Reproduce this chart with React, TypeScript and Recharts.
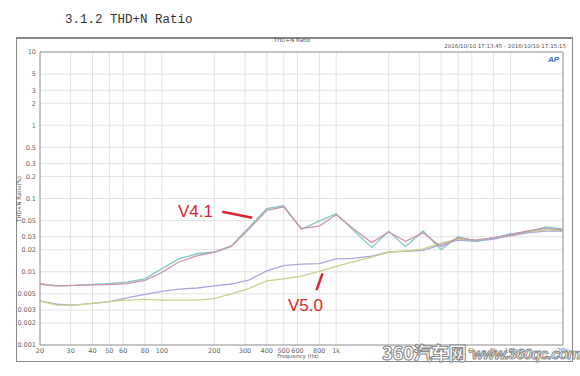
import React from 'react';
import { LineChart, Line, XAxis, YAxis, CartesianGrid, ReferenceLine } from 'recharts';

const freqs = [20, 25, 31.5, 40, 50, 63, 80, 100, 125, 160, 200, 250, 315, 400, 500, 630, 800, 1000, 1250, 1600, 2000, 2500, 3150, 4000, 5000, 6300, 8000, 10000, 12500, 16000, 20000];
const v41a = [0.0068, 0.0064, 0.0065, 0.0067, 0.0069, 0.0072, 0.008, 0.011, 0.015, 0.0176, 0.0186, 0.0225, 0.04, 0.073, 0.08, 0.038, 0.049, 0.062, 0.037, 0.0215, 0.0356, 0.022, 0.036, 0.02, 0.03, 0.026, 0.029, 0.033, 0.035, 0.041, 0.038];
const v41b = [0.0068, 0.0064, 0.0065, 0.0066, 0.0067, 0.0069, 0.0076, 0.0098, 0.0136, 0.0166, 0.0184, 0.0222, 0.038, 0.069, 0.077, 0.039, 0.042, 0.06, 0.039, 0.025, 0.035, 0.026, 0.034, 0.022, 0.029, 0.027, 0.029, 0.032, 0.036, 0.039, 0.037];
const v50a = [0.004, 0.0036, 0.0035, 0.0037, 0.0039, 0.0044, 0.0049, 0.0054, 0.0058, 0.006, 0.0064, 0.0068, 0.0077, 0.0103, 0.0121, 0.0127, 0.0129, 0.015, 0.0152, 0.0163, 0.0186, 0.019, 0.0196, 0.0235, 0.027, 0.026, 0.028, 0.031, 0.034, 0.036, 0.036];
const v50b = [0.004, 0.0035, 0.0035, 0.0037, 0.0039, 0.0041, 0.0042, 0.0041, 0.0041, 0.0041, 0.0043, 0.005, 0.0059, 0.0075, 0.008, 0.0087, 0.0101, 0.0118, 0.0136, 0.0158, 0.0185, 0.0192, 0.0205, 0.0245, 0.028, 0.027, 0.029, 0.032, 0.035, 0.037, 0.037];

const xTicks = [20, 30, 40, 50, 60, 80, 100, 200, 300, 400, 500, 600, 800, 1000, 2000, 3000, 4000, 5000, 6000, 8000, 10000, 20000];
const yTicks = [0.001, 0.002, 0.003, 0.005, 0.01, 0.02, 0.03, 0.05, 0.1, 0.2, 0.3, 0.5, 1, 2, 3, 5, 10];

const data = freqs.map((f, i) => ({ f, a: v41a[i], b: v41b[i], c: v50a[i], d: v50b[i] }));

const fmtX = (v: number) => (v >= 1000 ? `${v / 1000}k` : `${v}`);
const fmtY = (v: number) => `${v}`;

const tickStyle = { fontSize: 6.5, fill: '#666', fontFamily: 'DejaVu Sans' };
const red = '#d42630';

export default function App() {
  return (
    <div style={{ position: 'absolute', left: 0, top: 0, width: 580, height: 376, background: '#fff', overflow: 'hidden' }}>
      <div style={{ position: 'absolute', left: 65, top: 13, fontFamily: 'Liberation Mono', fontSize: 12.5, color: '#333', whiteSpace: 'nowrap' }}>
        3.1.2 THD+N Ratio
      </div>
      <div style={{ position: 'absolute', left: 16, top: 37, width: 557, height: 325, border: '1px solid #888', borderTopWidth: 2, boxSizing: 'border-box' }} />
      <div style={{ position: 'absolute', left: 242, width: 100, top: 37, textAlign: 'center', fontFamily: 'DejaVu Sans', fontSize: 5.5, color: '#555' }}>THD+N Ratio</div>
      <div style={{ position: 'absolute', right: 14, top: 43, fontFamily: 'DejaVu Sans', fontSize: 5.5, color: '#555', whiteSpace: 'nowrap' }}>
        2016/10/10 17:13:45 - 2016/10/10 17:15:15
      </div>
      <div style={{ position: 'absolute', left: 548, top: 55, fontFamily: 'Liberation Sans', fontSize: 8, fontWeight: 'bold', fontStyle: 'italic', color: '#3a6fc0' }}>AP</div>
      <div style={{ position: 'absolute', left: 19, top: 199, transform: 'translate(-50%, -50%) rotate(-90deg)', fontFamily: 'DejaVu Sans', fontSize: 5.5, color: '#555', whiteSpace: 'nowrap' }}>
        THD+N Ratio(%)
      </div>
      <div style={{ position: 'absolute', left: 248, width: 100, top: 353, textAlign: 'center', fontFamily: 'DejaVu Sans', fontSize: 5.5, color: '#555' }}>Frequency (Hz)</div>
      <div style={{ position: 'absolute', left: 0, top: 0 }}>
        <LineChart width={580} height={376} data={data} margin={{ top: 52, right: 17, left: 0, bottom: 0 }}>
          <CartesianGrid stroke="#e2e2e2" strokeWidth={1} />
          <XAxis
            dataKey="f"
            type="number"
            scale="log"
            domain={[20, 20000]}
            ticks={xTicks}
            tickFormatter={fmtX}
            tick={tickStyle}
            tickLine={false}
            tickSize={2}
            tickMargin={1}
            axisLine={{ stroke: '#999' }}
            height={31}
            interval={0}
            allowDataOverflow
          />
          <YAxis
            type="number"
            scale="log"
            domain={[0.001, 10]}
            ticks={yTicks}
            tickFormatter={fmtY}
            tick={tickStyle}
            tickLine={false}
            tickSize={2}
            tickMargin={2}
            axisLine={{ stroke: '#999' }}
            width={40}
            interval={0}
            allowDataOverflow
          />
          <ReferenceLine y={10} stroke="#999" />
          <ReferenceLine x={20000} stroke="#999" />
          <Line dataKey="c" stroke="#aaa6dc" strokeWidth={1.3} dot={false} isAnimationActive={false} />
          <Line dataKey="d" stroke="#cdd08a" strokeWidth={1.3} dot={false} isAnimationActive={false} />
          <Line dataKey="a" stroke="#7ec6c2" strokeWidth={1.3} dot={false} isAnimationActive={false} />
          <Line dataKey="b" stroke="#c996ae" strokeWidth={1.3} dot={false} isAnimationActive={false} />
          <ReferenceLine segment={[{ x: 222, y: 0.066 }, { x: 330, y: 0.0546 }]} stroke={red} strokeWidth={2.5} ifOverflow="visible" />
          <ReferenceLine segment={[{ x: 835, y: 0.0095 }, { x: 771, y: 0.0056 }]} stroke={red} strokeWidth={2.5} ifOverflow="visible" />
        </LineChart>
      </div>
      <div style={{ position: 'absolute', left: 178, top: 202, fontFamily: 'Liberation Sans', fontSize: 17, color: red }}>V4.1</div>
      <div style={{ position: 'absolute', left: 288, top: 296, fontFamily: 'Liberation Sans', fontSize: 17, color: red }}>V5.0</div>
      <div style={{ position: 'absolute', left: 382, top: 341, fontFamily: 'Noto Sans CJK SC', fontSize: 18, lineHeight: '22px', fontWeight: 900, color: '#fff', WebkitTextStroke: '1px #888', whiteSpace: 'nowrap', letterSpacing: -0.5 }}>
        360汽车网
      </div>
      <div style={{ position: 'absolute', left: 472, top: 345, fontFamily: 'Liberation Sans', fontSize: 15, fontWeight: 'bold', fontStyle: 'italic', color: '#fff', WebkitTextStroke: '1px #888', whiteSpace: 'nowrap', letterSpacing: -0.6 }}>
        www.360qc.com
      </div>
    </div>
  );
}
